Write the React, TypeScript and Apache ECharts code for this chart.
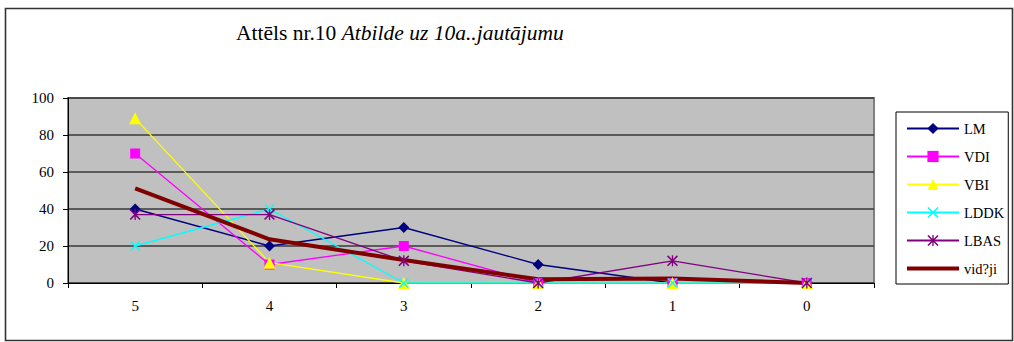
import React, { useEffect, useRef } from "react";
import * as echarts from "echarts";

const categories = ["5", "4", "3", "2", "1", "0"];
const seriesNames = ["LM", "VDI", "VBI", "LDDK", "LBAS", "vid?ji"];
const lmValues = [40, 20, 30, 10, 0, 0];
const vdiValues = [70, 10, 20, 0, 0, 0];
const vbiValues = [89, 11, 0, 0, 0, 0];
const lddkValues = [20, 40, 0, 0, 0, 0];
const lbasValues = [37, 37, 12, 0, 12, 0];
const avgValues = [51.2, 23.6, 12.4, 2, 2.4, 0];
const yTicks = { min: 0, max: 100, interval: 20 };

const X_PATH = "path://M0,1 L1,0 L5,4 L9,0 L10,1 L6,5 L10,9 L9,10 L5,6 L1,10 L0,9 L4,5 Z";
const STAR_PATH =
  "path://M0,1 L1,0 L5,4 L9,0 L10,1 L6,5 L10,9 L9,10 L5,6 L1,10 L0,9 L4,5 Z M4.4,0 L5.6,0 L5.6,10 L4.4,10 Z";
const BAR_ICON = "path://M0,0 L52,0 L52,4 L0,4 Z";

const FONT = "Liberation Serif";

export default function App() {
  const ref = useRef<HTMLDivElement>(null);
  useEffect(() => {
    document.body.style.margin = "0";
    const chart = echarts.init(ref.current!, null, { renderer: "svg" });
    const mk = (name: string, data: number[], color: string, symbol: string, size: number, width = 1.3) => ({
      name,
      type: "line",
      data,
      symbol,
      symbolSize: size,
      showSymbol: symbol !== "none",
      itemStyle: { color },
      lineStyle: { color, width },
      emphasis: { disabled: true },
    });
    chart.setOption({
      animation: false,
      textStyle: { fontFamily: FONT },
      graphic: [
        {
          type: "rect",
          shape: { x: 5.5, y: 8.5, width: 1007, height: 332 },
          style: { fill: "none", stroke: "#333", lineWidth: 1.6 },
          silent: true,
        },
        {
          type: "text",
          left: 236,
          top: 22,
          style: {
            text: "{n|Attēls nr.10 }{i|Atbilde uz 10a..jautājumu}",
            rich: {
              n: { fontFamily: FONT, fontSize: 21.5, fill: "#000" },
              i: { fontFamily: FONT, fontSize: 21.5, fontStyle: "italic", fill: "#000" },
            },
          },
        },
      ],
      grid: {
        left: 68,
        right: 140,
        top: 98,
        bottom: 59,
        show: true,
        backgroundColor: "#c0c0c0",
        borderColor: "#808080",
        borderWidth: 2,
      },
      legend: {
        orient: "vertical",
        left: 896,
        top: 112,
        data: [
          "LM",
          "VDI",
          "VBI",
          "LDDK",
          "LBAS",
          { name: seriesNames[5], icon: BAR_ICON },
        ],
        symbolKeepAspect: true,
        backgroundColor: "#fff",
        borderColor: "#000",
        borderWidth: 1,
        padding: [9, 4, 8, 10],
        itemWidth: 52,
        itemHeight: 14,
        itemGap: 13,
        textStyle: { fontFamily: FONT, fontSize: 14.5, color: "#000", lineHeight: 14 },
      },
      xAxis: {
        type: "category",
        data: categories,
        boundaryGap: true,
        axisLine: { lineStyle: { color: "#000", width: 1 } },
        axisTick: { show: true, length: 5, lineStyle: { color: "#000" } },
        axisLabel: { color: "#000", fontFamily: FONT, fontSize: 15, margin: 15 },
        splitLine: { show: false },
      },
      yAxis: {
        type: "value",
        min: yTicks.min,
        max: yTicks.max,
        interval: yTicks.interval,
        axisLine: { show: true, lineStyle: { color: "#000", width: 1 } },
        axisTick: { show: true, length: 5, lineStyle: { color: "#000" } },
        axisLabel: { color: "#000", fontFamily: FONT, fontSize: 15, margin: 14 },
        splitLine: { show: true, lineStyle: { color: "#3a3a3a", width: 1.5 } },
      },
      series: [
        mk("LM", lmValues, "#000080", "diamond", 11),
        mk("VDI", vdiValues, "#ff00ff", "rect", 10),
        mk("VBI", vbiValues, "#ffff00", "triangle", 12),
        mk("LDDK", lddkValues, "#00ffff", X_PATH, 10),
        mk("LBAS", lbasValues, "#800080", STAR_PATH, 11),
        mk("vid?ji", avgValues, "#800000", "none", 0, 4),
      ],
    });
    return () => chart.dispose();
  }, []);
  return <div ref={ref} style={{ width: 1014, height: 342 }} />;
}
